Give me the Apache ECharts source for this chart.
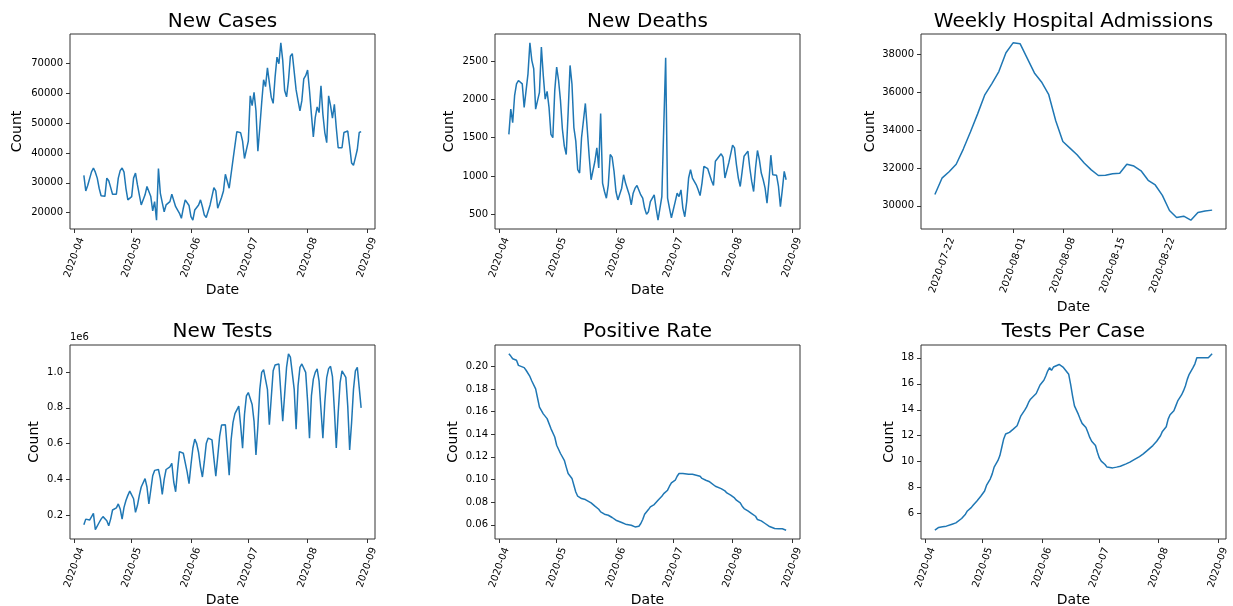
<!DOCTYPE html>
<html>
<head>
<meta charset="utf-8">
<title>Daily COVID-19 figures</title>
<script src="https://cdn.jsdelivr.net/npm/echarts@6/dist/echarts.min.js"></script>
<style>
html, body { margin: 0; padding: 0; background: #fff; }
#main { width: 1233px; height: 606px; }
</style>
</head>
<body>
<div id="main"></div>
<script>
// daily series, first value is 2020-04-06
var dailyStart = '2020-04-06';

var newCases = [
  32500, 27300, 29100, 29600, 33700, 35000, 33600, 31600, 28200, 25700,
  25500, 25500, 31600, 30700, 28500, 26200, 26200, 26200, 31600, 34100,
  35000, 33600, 28200, 24300, 24000, 25400, 31600, 33300, 29400, 26000,
  22600, 23200, 26000, 28800, 28800, 25400, 20600, 23700, 17500, 34800,
  26500, 26200, 20300, 22600, 22300, 23700, 26200, 26000, 22000, 21500,
  19800, 18100, 21500, 24300, 24300, 22400, 18700, 17500, 20900, 20900,
  22600, 24300, 22000, 19200, 18400, 18600, 22600, 25500, 28400, 27300,
  21500, 20900, 25100, 27300, 32900, 33300, 28200, 28800, 37800, 37800,
  47200, 47000, 46800, 44000, 38200, 38600, 44000, 59200, 55900, 60400,
  54200, 40600, 48500, 57000, 64600, 62300, 68600, 68300, 58700, 56700,
  65500, 72200, 70000, 77000, 71100, 61000, 58900, 64300, 72500, 73400,
  73100, 61200, 57600, 54200, 57600, 64900, 66000, 67900, 61000, 53000,
  45400, 51900, 55500, 53600, 62600, 53000, 46900, 43500, 59200, 55900,
  51700, 56400, 48500, 41800, 41800, 41800, 46900, 46900, 47400, 42300,
  36700, 35900, 38500, 41200, 46900, 47200
];

var newDeaths = [
  1544, 1873, 1697, 2048, 2202, 2246, 2246, 2202, 1895, 1917,
  2333, 2737, 2509, 2399, 1873, 1983, 2092, 2684, 2311, 2004,
  2105, 1895, 1544, 1500, 2114, 2421, 2246, 1983, 1610, 1390,
  1281, 1829, 2443, 2200, 1632, 1456, 1083, 1039, 1500, 1522,
  1947, 1610, 1259, 952, 952, 1193, 1368, 1105, 1816, 908,
  798, 711, 886, 1281, 1246, 1061, 798, 689, 689, 842,
  1017, 908, 886, 754, 623, 776, 842, 877, 895, 754,
  711, 579, 500, 535, 667, 675, 754, 579, 425, 425,
  732, 711, 2544, 711, 579, 456, 469, 667, 776, 732,
  820, 579, 469, 667, 974, 1083, 974, 974, 886, 820,
  745, 908, 1127, 1105, 1096, 1017, 939, 877, 1193, 1193,
  1259, 1290, 1246, 974, 952, 1171, 1184, 1403, 1368, 1149,
  974, 864, 1061, 1259, 1237, 1325, 1105, 930, 798, 1105,
  1333, 1215, 1039, 952, 842, 645, 930, 1272, 1017, 1017,
  1009, 864, 601, 820, 1061, 952
];

// new tests, in millions (axis shows the 1e6 offset)
var newTestsMillions = [
  0.145, 0.177, 0.172, 0.172, 0.177, 0.209,
  0.118, 0.115, 0.158, 0.177, 0.191, 0.202, 0.168,
  0.140, 0.177, 0.228, 0.234, 0.240, 0.262, 0.234,
  0.177, 0.243, 0.281, 0.310, 0.334, 0.338, 0.291,
  0.215, 0.253, 0.310, 0.357, 0.366, 0.404, 0.357,
  0.262, 0.340, 0.420, 0.450, 0.457, 0.455, 0.404,
  0.315, 0.400, 0.455, 0.465, 0.470, 0.490, 0.385,
  0.330, 0.450, 0.555, 0.546, 0.546, 0.546, 0.442,
  0.376, 0.480, 0.574, 0.625, 0.600, 0.550, 0.470,
  0.413, 0.500, 0.600, 0.631, 0.621, 0.621, 0.517,
  0.417, 0.527, 0.640, 0.704, 0.706, 0.706, 0.565,
  0.423, 0.621, 0.719, 0.768, 0.772, 0.810, 0.700,
  0.574, 0.763, 0.867, 0.886, 0.876, 0.819, 0.725,
  0.536, 0.697, 0.904, 0.999, 1.014, 1.018, 0.904,
  0.706, 0.857, 1.008, 1.040, 1.040, 1.046, 0.886,
  0.725, 0.876, 1.027, 1.103, 1.084, 1.078, 0.904,
  0.680, 0.923, 1.027, 1.046, 1.040, 0.999, 0.838,
  0.630, 0.867, 0.961, 0.999, 1.018, 0.950, 0.790,
  0.630, 0.830, 0.970, 1.020, 1.033, 0.975, 0.790,
  0.575, 0.772, 0.942, 1.008, 1.003, 0.971, 0.810,
  0.565, 0.716, 0.904, 1.008, 1.027, 1.018, 0.800
];

// smooth series, read at days counted from 2020-04-01
var dayBase = '2020-04-01';
var posRateDays = [5, 6, 7, 9, 10, 11, 13, 14, 16, 17, 19, 20, 21, 23, 25, 26, 27, 29, 30, 32,
  34, 35, 36, 38, 39, 40, 41, 43, 45, 46, 48, 50, 52, 53, 55, 57, 59, 61, 64, 66,
  67, 69, 70, 71, 73, 74, 75, 76, 78, 79, 81, 82, 83, 85, 86, 88, 89, 90, 92, 93,
  94, 96, 99, 101, 103, 105, 106, 108, 110, 111, 113, 114, 116, 118, 119, 121, 123, 124, 126, 127,
  128, 130, 132, 134, 135, 137, 139, 141, 142, 144, 146, 148, 149, 150];
var posRateValues = [0.211, 0.209, 0.2067, 0.2053, 0.2008, 0.200, 0.1988, 0.1965, 0.191, 0.187,
  0.180, 0.172, 0.164, 0.158, 0.1538, 0.1523, 0.145, 0.1376, 0.1303, 0.123,
  0.117, 0.111, 0.1053, 0.101, 0.095, 0.089, 0.0853, 0.0832, 0.0823, 0.0812,
  0.0794, 0.0765, 0.0738, 0.0715, 0.0694, 0.0685, 0.0665, 0.0641, 0.0621, 0.0606,
  0.0591, 0.0597, 0.0588, 0.0582, 0.0588, 0.0612, 0.0647, 0.0694, 0.0735, 0.0759,
  0.0779, 0.0794, 0.0818, 0.0853, 0.0876, 0.0906, 0.0941, 0.0970, 0.0994, 0.1029,
  0.1053, 0.1053, 0.1047, 0.1047, 0.1038, 0.1029, 0.101, 0.0994, 0.098, 0.0965,
  0.0941, 0.0935, 0.092, 0.090, 0.0882, 0.0862, 0.0838, 0.0818, 0.0794, 0.0765,
  0.0744, 0.0723, 0.070, 0.0676, 0.0647, 0.0635, 0.0612, 0.0588, 0.0576, 0.0568,
  0.0565, 0.0565, 0.0559, 0.0553];

var testsPerCaseDays = [5, 6, 7, 9, 11, 12, 14, 16, 17, 19, 21, 22, 24, 25, 27, 29, 31, 32, 34, 35,
  36, 38, 39, 40, 41, 42, 44, 45, 46, 48, 49, 50, 52, 53, 54, 55, 56, 58, 59, 60,
  62, 63, 64, 65, 66, 67, 68, 70, 71, 72, 73, 75, 76, 77, 78, 80, 81, 82, 84, 85,
  86, 87, 89, 90, 91, 92, 94, 95, 96, 98, 100, 102, 103, 105, 107, 109, 110, 112, 114, 116,
  117, 119, 121, 123, 124, 126, 127, 128, 130, 131, 132, 134, 135, 136, 137, 138, 140, 141, 142, 144,
  146, 148, 149, 150];
var testsPerCaseValues = [4.72, 4.85, 4.93, 4.98, 5.03, 5.08, 5.18, 5.28, 5.39, 5.62,
  5.95, 6.20, 6.46, 6.64, 6.97, 7.33, 7.74, 8.17, 8.68, 9.06,
  9.58, 10.09, 10.47, 11.11, 11.75, 12.13, 12.26, 12.31, 12.51, 12.77,
  13.15, 13.53, 13.97, 14.22, 14.56, 14.81, 14.94, 15.25, 15.58, 15.91,
  16.27, 16.60, 16.98, 17.24, 17.03, 17.29, 17.37, 17.49, 17.54, 17.29,
  17.19, 16.73, 15.96, 15.07, 14.30, 13.66, 13.28, 12.95, 12.64, 12.26,
  11.87, 11.57, 11.24, 10.72, 10.29, 10.04, 9.78, 9.58, 9.52, 9.52,
  9.58, 9.65, 9.70, 9.83, 9.96, 10.14, 10.29, 10.39, 10.60, 10.85,
  10.90, 11.24, 11.57, 12.00, 12.33, 12.69, 13.28, 13.61, 13.92, 14.30,
  14.68, 15.14, 15.45, 15.83, 16.34, 16.73, 17.24, 17.54, 18.0, 18.0,
  18.0, 18.0, 18.05, 18.31];

// weekly hospital admissions, daily from 2020-07-21
var hospStart = '2020-07-21';
var hospAdmissions = [30600, 31460, 31800, 32200, 33000, 33900, 34850, 35850, 36450, 37100,
  38100, 38620, 38570, 37800, 37030, 36550, 35900, 34500, 33400, 33050,
  32700, 32260, 31900, 31600, 31620, 31700, 31725, 32200, 32100, 31850,
  31350, 31100, 30550, 29750, 29380, 29450, 29240, 29650, 29720, 29770];

// tick positions
var monthTicks = ['2020-04-01', '2020-05-01', '2020-06-01', '2020-07-01', '2020-08-01', '2020-09-01'];
var hospTicks = ['2020-07-22', '2020-08-01', '2020-08-08', '2020-08-15', '2020-08-22'];
var casesTicks = [20000, 30000, 40000, 50000, 60000, 70000];
var deathsTicks = [500, 1000, 1500, 2000, 2500];
var hospYTicks = [30000, 32000, 34000, 36000, 38000];
var testsTicks = [0.2, 0.4, 0.6, 0.8, 1.0];
var posRateTicks = [0.06, 0.08, 0.10, 0.12, 0.14, 0.16, 0.18, 0.20];
var tpcTicks = [6, 8, 10, 12, 14, 16, 18];

var DAY = 86400000;
var FONT = 'DejaVu Sans';
var BLUE = '#1f77b4';

function ts(s) {
  var p = s.split('-');
  return Date.UTC(+p[0], +p[1] - 1, +p[2]);
}
function daily(start, values) {
  var t0 = ts(start);
  return values.map(function (v, i) { return [t0 + i * DAY, v]; });
}
function byDay(base, days, values) {
  var t0 = ts(base);
  return days.map(function (d, i) { return [t0 + d * DAY, values[i]]; });
}
// matplotlib style 5% margins
function padded(vals) {
  var lo = Math.min.apply(null, vals), hi = Math.max.apply(null, vals);
  var m = (hi - lo) * 0.05;
  return [lo - m, hi + m];
}
function two(n) { return n < 10 ? '0' + n : '' + n; }
function fmtMonth(v) {
  var d = new Date(v);
  return d.getUTCFullYear() + '-' + two(d.getUTCMonth() + 1);
}
function fmtDay(v) {
  var d = new Date(v);
  return d.getUTCFullYear() + '-' + two(d.getUTCMonth() + 1) + '-' + two(d.getUTCDate());
}

var panels = [
  { title: 'New Cases', left: 70, top: 34, h: 195, titleTop: 12,
    data: daily(dailyStart, newCases), yTicks: casesTicks, digits: 0,
    xTicks: monthTicks, xFmt: fmtMonth, labelMargin: 28.5, dateGap: 54.5, countGap: 45.5 },
  { title: 'New Deaths', left: 495, top: 34, h: 195, titleTop: 12,
    data: daily(dailyStart, newDeaths), yTicks: deathsTicks, digits: 0,
    xTicks: monthTicks, xFmt: fmtMonth, labelMargin: 28.5, dateGap: 54.5, countGap: 38.5 },
  { title: 'Weekly Hospital Admissions', left: 921, top: 34, h: 195, titleTop: 12,
    data: daily(hospStart, hospAdmissions), yTicks: hospYTicks, digits: 0,
    xTicks: hospTicks, xFmt: fmtDay, labelMargin: 36.3, dateGap: 71, countGap: 44 },
  { title: 'New Tests', left: 70, top: 345, h: 194, titleTop: 322,
    data: daily(dailyStart, newTestsMillions), yTicks: testsTicks, digits: 1,
    xTicks: monthTicks, xFmt: fmtMonth, labelMargin: 28.5, dateGap: 54.5, countGap: 28.8 },
  { title: 'Positive Rate', left: 495, top: 345, h: 194, titleTop: 322,
    data: byDay(dayBase, posRateDays, posRateValues), yTicks: posRateTicks, digits: 2,
    xTicks: monthTicks, xFmt: fmtMonth, labelMargin: 28.5, dateGap: 54.5, countGap: 34.5 },
  { title: 'Tests Per Case', left: 921, top: 345, h: 194, titleTop: 322,
    data: byDay(dayBase, testsPerCaseDays, testsPerCaseValues), yTicks: tpcTicks, digits: 0,
    xTicks: monthTicks, xFmt: fmtMonth, labelMargin: 28.5, dateGap: 54.5, countGap: 25 }
];

var option = {
  animation: false,
  backgroundColor: '#fff',
  textStyle: { fontFamily: FONT },
  title: [], grid: [], xAxis: [], yAxis: [], series: [],
  graphic: [{
    type: 'text', left: 70, top: 332,
    style: { text: '1e6', fontSize: 10, fontFamily: FONT, fill: '#000' }
  }]
};

panels.forEach(function (p, i) {
  var xs = p.data.map(function (d) { return d[0]; });
  var ys = p.data.map(function (d) { return d[1]; });
  var xr = padded(xs), yr = padded(ys);
  var xTickVals = p.xTicks.map(ts);

  option.title.push({
    text: p.title, left: p.left + 152.5, top: p.titleTop, padding: 0,
    textAlign: 'center', textVerticalAlign: 'top',
    textStyle: { fontFamily: FONT, fontSize: 20, fontWeight: 'normal', color: '#000' }
  });
  option.grid.push({
    left: p.left, top: p.top, width: 305, height: p.h,
    show: true, borderColor: '#333', borderWidth: 1, backgroundColor: '#fff',
    containLabel: false, outerBoundsMode: 'none'
  });
  // dates are plotted as UTC timestamps on a numeric axis
  option.xAxis.push({
    type: 'value', gridIndex: i, min: xr[0], max: xr[1], scale: true,
    axisLine: { show: false },
    splitLine: { show: false },
    axisTick: { show: true, customValues: xTickVals, length: 4, lineStyle: { color: '#333', width: 1 } },
    axisLabel: {
      customValues: xTickVals, formatter: p.xFmt, rotate: 70,
      align: 'center', verticalAlign: 'middle', margin: p.labelMargin,
      fontSize: 10, fontFamily: FONT, color: '#000', hideOverlap: false
    },
    name: 'Date', nameLocation: 'middle', nameGap: p.dateGap, nameMoveOverlap: false,
    nameTextStyle: { fontSize: 14, fontFamily: FONT, color: '#000' }
  });
  option.yAxis.push({
    type: 'value', gridIndex: i, min: yr[0], max: yr[1], scale: true,
    axisLine: { show: false },
    splitLine: { show: false },
    axisTick: { show: true, customValues: p.yTicks, length: 4, lineStyle: { color: '#333', width: 1 } },
    axisLabel: {
      customValues: p.yTicks, margin: 7, fontSize: 10, fontFamily: FONT, color: '#000',
      formatter: (function (dg) { return function (v) { return v.toFixed(dg); }; })(p.digits)
    },
    name: 'Count', nameLocation: 'middle', nameGap: p.countGap, nameRotate: 90, nameMoveOverlap: false,
    nameTextStyle: { fontSize: 14, fontFamily: FONT, color: '#000' }
  });
  option.series.push({
    type: 'line', xAxisIndex: i, yAxisIndex: i, data: p.data,
    showSymbol: false, symbol: 'none', smooth: false,
    lineStyle: { color: BLUE, width: 1.5 }, itemStyle: { color: BLUE }
  });
});

var chart = echarts.init(document.getElementById('main'), null, { renderer: 'canvas' });
chart.setOption(option);
</script>
</body>
</html>
